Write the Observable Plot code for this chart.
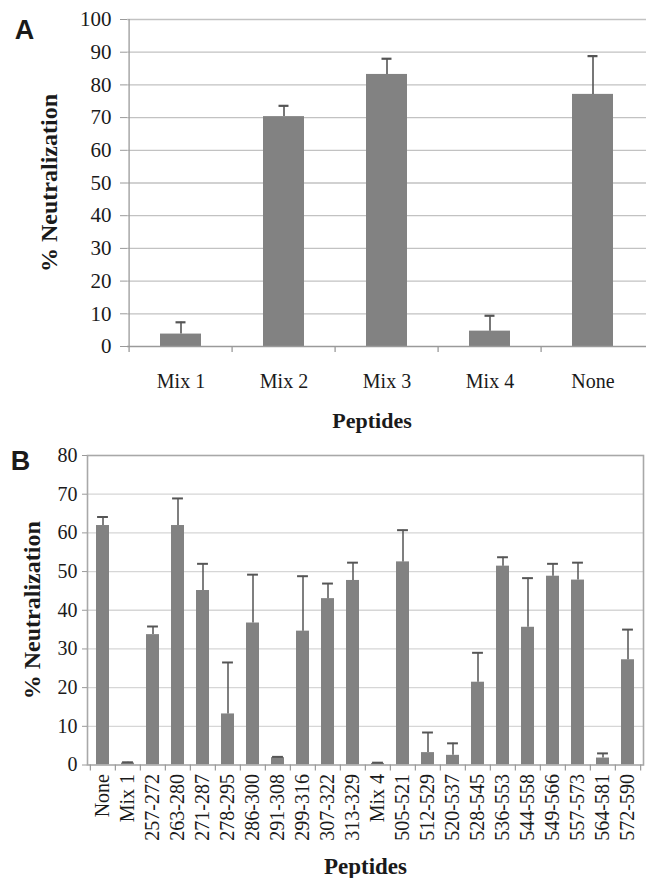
<!DOCTYPE html>
<html>
<head>
<meta charset="utf-8">
<script src="https://cdn.jsdelivr.net/npm/d3@7"></script>
<script src="https://cdn.jsdelivr.net/npm/@observablehq/plot@0.6"></script>
<style>
  body { margin: 0; background: #fff; }
  #chart svg { display: block; }
</style>
</head>
<body>
<div id="chart"></div>
<script>
// ---------- Panel A data ----------
const catsA = ["Mix 1", "Mix 2", "Mix 3", "Mix 4", "None"];
const meanA = [3.8, 70.3, 83.2, 4.7, 77.1];
const sdA   = [3.6, 3.3, 4.8, 4.7, 11.7];
const ticksA = [0, 10, 20, 30, 40, 50, 60, 70, 80, 90, 100];

// ---------- Panel B data ----------
const catsB = ["None", "Mix 1", "257-272", "263-280", "271-287", "278-295", "286-300",
  "291-308", "299-316", "307-322", "313-329", "Mix 4", "505-521", "512-529", "520-537",
  "528-545", "536-553", "544-558", "549-566", "557-573", "564-581", "572-590"];
const meanB = [61.9, 0.5, 33.7, 61.9, 45.1, 13.2, 36.7, 1.9, 34.6, 43.0, 47.7, 0.4,
  52.5, 3.2, 2.5, 21.4, 51.4, 35.6, 48.8, 47.8, 1.8, 27.2];
const sdB   = [2.2, 0.2, 2.1, 7.0, 6.9, 13.3, 12.5, 0.2, 14.2, 3.9, 4.6, 0.2,
  8.2, 5.2, 3.1, 7.6, 2.3, 12.7, 3.2, 4.5, 1.2, 7.8];
const ticksB = [0, 10, 20, 30, 40, 50, 60, 70, 80];

const serif = "'Liberation Serif', 'Times New Roman', Times, serif";
const sans = "'Liberation Sans', Arial, Helvetica, sans-serif";
const barFill = "#828282";
const errColor = "#555555";
const axisColor = "#9a9a9a";
const textColor = "#1a1a1a";

// ---------- Panel A ----------
const dataA = catsA.map((c, i) => ({cat: c, mean: meanA[i], hi: meanA[i] + sdA[i]}));
const WA = 646, HA = 440, mlA = 127, mrA = 0, mtA = 19, mbA = 94;
const stepA = (WA - mlA - mrA) / catsA.length;
const pxA = (HA - mtA - mbA) / 100;
const padA = 0.6;
const capA = 10.5;
const bwA = stepA * (1 - padA);

const chartA = Plot.plot({
  width: WA, height: HA,
  marginLeft: mlA, marginRight: mrA, marginTop: mtA, marginBottom: mbA,
  style: {fontFamily: serif, background: "#fff", color: textColor, overflow: "visible"},
  x: {domain: catsA, paddingInner: padA, paddingOuter: padA / 2, label: null},
  y: {domain: [0, 100], label: null},
  marks: [
    Plot.gridY(ticksA.filter(t => t > 0), {stroke: "#c2c2c2", strokeOpacity: 1, strokeWidth: 1.3}),
    Plot.barY(dataA, {x: "cat", y: "mean", fill: barFill}),
    Plot.ruleX(dataA, {x: "cat", y1: "mean", y2: "hi", stroke: errColor, strokeWidth: 1.6}),
    Plot.tickY(dataA, {x: "cat", y: "hi", stroke: errColor, strokeWidth: 2.2,
      insetLeft: (bwA - capA) / 2, insetRight: (bwA - capA) / 2}),
    Plot.ruleY([0], {stroke: axisColor, strokeWidth: 1.3}),
    Plot.ruleX([catsA[0]], {x: d => d, dx: -stepA / 2, y1: -6 / pxA, y2: 100, stroke: axisColor, strokeWidth: 1.3}),
    Plot.ruleX(catsA.slice(1), {x: d => d, dx: -stepA / 2, y1: 0, y2: -6 / pxA, stroke: axisColor, strokeWidth: 1.3}),
    Plot.axisY(ticksA, {tickSize: 7, tickPadding: 9, fontSize: 21, stroke: axisColor, fill: textColor, label: null}),
    Plot.axisX({tickSize: 0, tickPadding: 27, fontSize: 20, fill: textColor, label: null}),
    Plot.text(["% Neutralization"], {text: d => d, frameAnchor: "left", dx: -78, rotate: -90,
      textAnchor: "middle", lineAnchor: "middle",
      fontSize: 24, fontWeight: "bold", fill: textColor}),
    Plot.text(["Peptides"], {text: d => d, frameAnchor: "bottom", dy: 74, dx: -15,
      textAnchor: "middle", lineAnchor: "middle",
      fontSize: 22, fontWeight: "bold", fill: textColor}),
    Plot.text(["A"], {text: d => d, frameAnchor: "top-left", dx: -103, dy: 11,
      textAnchor: "middle", lineAnchor: "middle",
      fontFamily: sans, fontSize: 27, fontWeight: "bold", fill: textColor})
  ]
});

// ---------- Panel B ----------
const dataB = catsB.map((c, i) => ({cat: c, mean: meanB[i], hi: meanB[i] + sdB[i]}));
const WB = 646, HB = 438, mlB = 87, mrB = 3, mtB = 15, mbB = 113.5;
const stepB = (WB - mlB - mrB) / catsB.length;
const pxB = (HB - mtB - mbB) / 80;
const padB = 0.5;
const capB = 10.5;
const bwB = stepB * (1 - padB);

const chartB = Plot.plot({
  width: WB, height: HB,
  marginLeft: mlB, marginRight: mrB, marginTop: mtB, marginBottom: mbB,
  style: {fontFamily: serif, background: "#fff", color: textColor, overflow: "visible"},
  x: {domain: catsB, paddingInner: padB, paddingOuter: padB / 2, label: null},
  y: {domain: [0, 80], label: null},
  marks: [
    Plot.gridY(ticksB.filter(t => t > 0 && t < 80), {stroke: "#d6d6d6", strokeOpacity: 1, strokeWidth: 1.3}),
    Plot.barY(dataB, {x: "cat", y: "mean", fill: barFill}),
    Plot.ruleX(dataB, {x: "cat", y1: "mean", y2: "hi", stroke: errColor, strokeWidth: 1.5}),
    Plot.tickY(dataB, {x: "cat", y: "hi", stroke: errColor, strokeWidth: 2,
      insetLeft: Math.max(0, (bwB - capB) / 2), insetRight: Math.max(0, (bwB - capB) / 2)}),
    Plot.frame({stroke: "#a8a8a8", strokeWidth: 1.6}),
    Plot.ruleX(catsB, {x: d => d, dx: -stepB / 2, y1: 0, y2: -6 / pxB, stroke: axisColor, strokeWidth: 1.2}),
    Plot.ruleX([catsB[catsB.length - 1]], {x: d => d, dx: stepB / 2, y1: 0, y2: -6 / pxB, stroke: axisColor, strokeWidth: 1.2}),
    Plot.axisY(ticksB, {tickSize: 5, tickPadding: 5, fontSize: 20, stroke: axisColor, fill: textColor, label: null}),
    Plot.axisX({tickSize: 0, tickPadding: 9, tickRotate: -90, fontSize: 20, fill: textColor, label: null}),
    Plot.text(["% Neutralization"], {text: d => d, frameAnchor: "left", dx: -55, rotate: -90,
      textAnchor: "middle", lineAnchor: "middle",
      fontSize: 24, fontWeight: "bold", fill: textColor}),
    Plot.text(["Peptides"], {text: d => d, frameAnchor: "bottom", dy: 101.5,
      textAnchor: "middle", lineAnchor: "middle",
      fontSize: 23, fontWeight: "bold", fill: textColor}),
    Plot.text(["B"], {text: d => d, frameAnchor: "top-left", dx: -67, dy: 6,
      textAnchor: "middle", lineAnchor: "middle",
      fontFamily: sans, fontSize: 27, fontWeight: "bold", fill: textColor})
  ]
});

const root = document.getElementById("chart");
root.appendChild(chartA);
root.appendChild(chartB);
</script>
</body>
</html>
